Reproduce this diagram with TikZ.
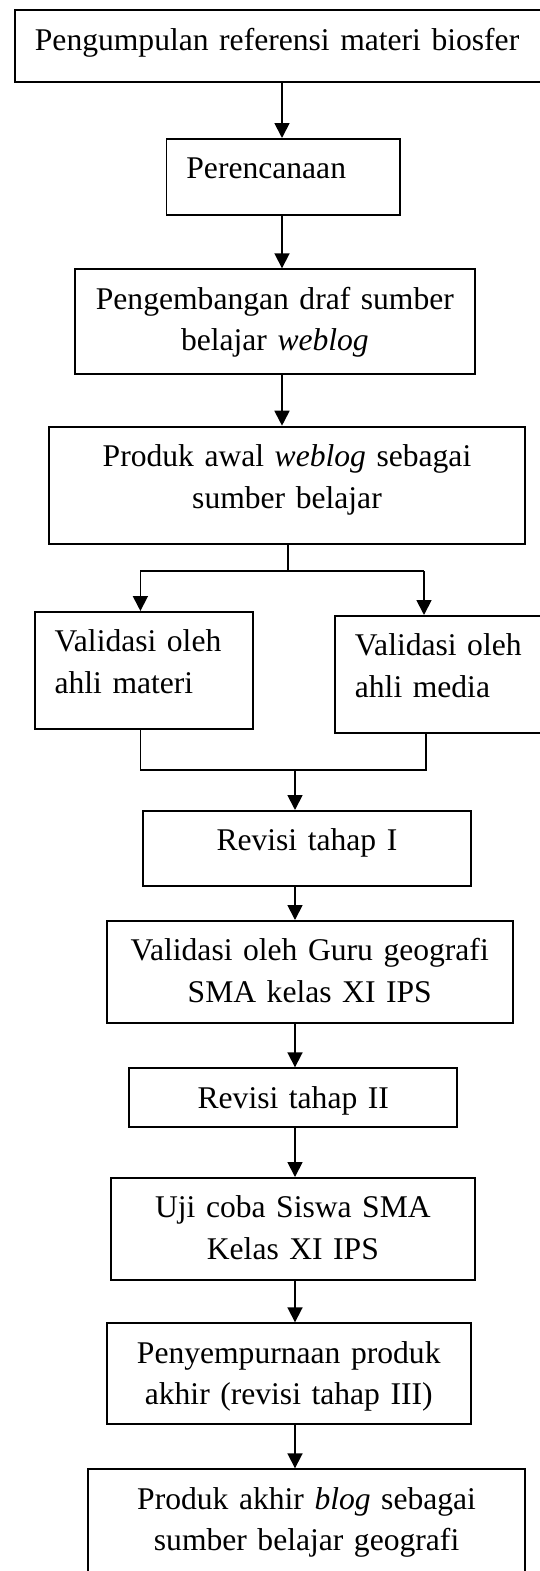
\documentclass[tikz,border=0pt]{standalone}
\usepackage{fontspec}
\setmainfont{Liberation Serif}
\usetikzlibrary{arrows.meta}

\tikzset{
  box/.style={draw, line width=1.8pt, anchor=north west, inner ysep=0pt,
    text height=40pt, font=\fontsize{31.6pt}{41.5pt}\selectfont},
  boxc/.style={box, inner xsep=5pt, align=center},
  boxl/.style={box, inner xsep=20pt, align=left},
  ln/.style={line width=1.8pt},
  arr/.style={ln, -{Triangle[length=15pt,width=15pt]}}
}

\begin{document}
\begin{tikzpicture}[x=1pt,y=-1pt]
\useasboundingbox (0,0) rectangle (540,1571);
\clip (0,0) rectangle (540,1571);

% Boxes
\node[boxl, text width=506pt, text depth=31.7pt] (ref) at (14,9.3) {Pengumpulan referensi materi biosfer};
\node[boxl, text width=193.5pt, text depth=36pt] (plan) at (165.5,138) {Perencanaan};
\node[boxc, text width=390pt, text depth=64.4pt] (draft) at (74,268.3) {Pengembangan draf sumber\\belajar \textit{weblog}};
\node[boxc, text width=466.6pt, text depth=77.6pt] (early) at (47.8,425.7) {Produk awal \textit{weblog} sebagai\\sumber belajar};
\node[boxl, text width=178.3pt, text depth=76.7pt] (matter) at (33.7,611) {Validasi oleh\\ahli materi};
\node[boxl, text width=178pt, text depth=76.7pt] (media) at (334,615) {Validasi oleh\\ahli media};
\node[boxc, text width=318pt, text depth=35pt] (rev1) at (142,810) {Revisi tahap I};
\node[boxc, text width=395.7pt, text depth=62.3pt] (teacher) at (106,920) {Validasi oleh Guru geografi\\SMA kelas XI IPS};
\node[boxc, text width=317.9pt, text depth=18.4pt] (rev2) at (128.4,1067.3) {Revisi tahap II};
\node[boxc, text width=354pt, text depth=62.3pt] (trial) at (110,1177) {Uji coba Siswa SMA\\Kelas XI IPS};
\node[boxc, text width=353.7pt, text depth=61pt] (rev3) at (106,1322.3) {Penyempurnaan produk\\akhir (revisi tahap III)};
\node[boxc, text width=426.6pt, text depth=80pt] (final) at (87.4,1468.3) {Produk akhir \textit{blog} sebagai\\sumber belajar geografi};

% Spines
\coordinate (spine) at (282,0);
\coordinate (spineb) at (295,0);

% Top arrows
\draw[arr] (ref.south -| spine) -- (plan.north -| spine);
\draw[arr] (plan.south -| spine) -- (draft.north -| spine);
\draw[arr] (draft.south -| spine) -- (early.north -| spine);

% Split to the two validations
\coordinate (split) at (288.3,571.3);
\coordinate (splitl) at (140.4,571.3);
\coordinate (splitr) at (424,571.3);
\draw[ln] (early.south -| split) -- (split);
\draw[ln] (splitl) -- (splitr);
\draw[arr] (splitl) -- (splitl |- matter.north);
\draw[arr] (splitr) -- (splitr |- media.north);

% Join
\coordinate (joinl) at (140.4,770);
\coordinate (joinr) at (426,770);
\coordinate (join) at (295,770);
\draw[ln] (matter.south -| joinl) -- (joinl) -- (joinr) -- (media.south -| joinr);
\draw[arr] (join) -- (join |- rev1.north);

% Lower arrows
\draw[arr] (rev1.south -| spineb) -- (teacher.north -| spineb);
\draw[arr] (teacher.south -| spineb) -- (rev2.north -| spineb);
\draw[arr] (rev2.south -| spineb) -- (trial.north -| spineb);
\draw[arr] (trial.south -| spineb) -- (rev3.north -| spineb);
\draw[arr] (rev3.south -| spineb) -- (final.north -| spineb);
\end{tikzpicture}
\end{document}
